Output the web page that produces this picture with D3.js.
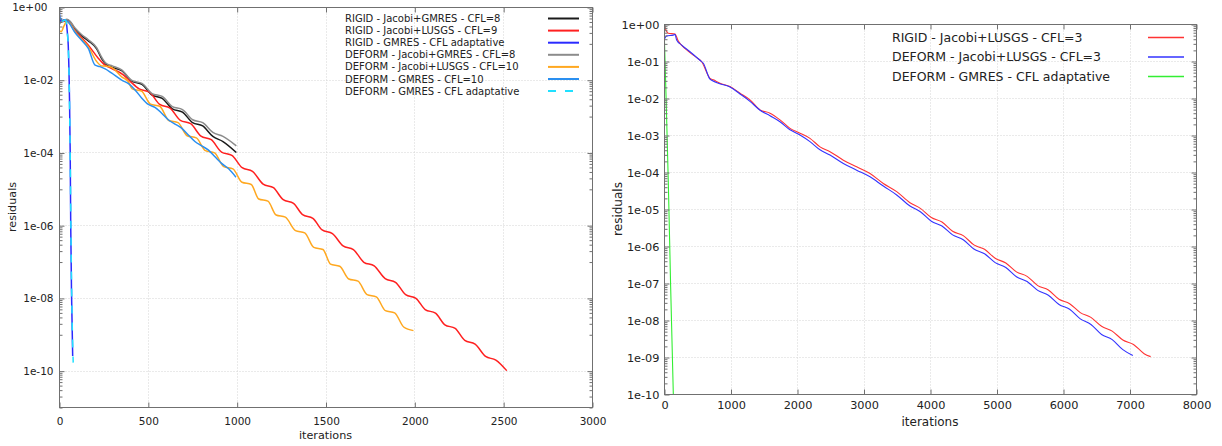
<!DOCTYPE html>
<html><head><meta charset="utf-8">
<script src="https://cdn.jsdelivr.net/npm/d3@7"></script>
<style>
body{margin:0;background:#fff;}
svg{display:block;font-family:"DejaVu Sans",sans-serif;}
</style></head><body>
<svg id="c" width="1222" height="446"></svg>
<script>
// ---------- DATA (iteration, log10(residual)) ----------
const leftIterTicks = [0, 500, 1000, 1500, 2000, 2500, 3000];
const leftResTickValues = [1e0, 1e-2, 1e-4, 1e-6, 1e-8, 1e-10];
const leftResTickLabels = ["1e+00", "1e-02", "1e-04", "1e-06", "1e-08", "1e-10"];
const rightIterTicks = [0, 1000, 2000, 3000, 4000, 5000, 6000, 7000, 8000];
const rightResTickValues = [1e0, 1e-1, 1e-2, 1e-3, 1e-4, 1e-5, 1e-6, 1e-7, 1e-8, 1e-9, 1e-10];
const rightResTickLabels = ["1e+00", "1e-01", "1e-02", "1e-03", "1e-04", "1e-05", "1e-06", "1e-07", "1e-08", "1e-09", "1e-10"];

const leftNames = [
  "RIGID - Jacobi+GMRES - CFL=8",
  "RIGID - Jacobi+LUSGS - CFL=9",
  "RIGID - GMRES - CFL adaptative",
  "DEFORM - Jacobi+GMRES - CFL=8",
  "DEFORM - Jacobi+LUSGS - CFL=10",
  "DEFORM - GMRES - CFL=10",
  "DEFORM - GMRES - CFL adaptative"
];
const rightNames = [
  "RIGID - Jacobi+LUSGS - CFL=3",
  "DEFORM - Jacobi+LUSGS - CFL=3",
  "DEFORM - GMRES - CFL adaptative"
];

const rigidJacobiGmres8 = [[0,-0.42],[10,-0.40],[25,-0.37],[45,-0.35],[60,-0.40],[90,-0.60],[130,-0.80],[165,-0.93],[212,-1.15],[240,-1.42],[265,-1.58],[300,-1.66],[353,-1.75],[410,-2.04],[467,-2.13],[524,-2.42],[581,-2.51],[638,-2.80],[695,-2.89],[752,-3.18],[809,-3.27],[866,-3.56],[923,-3.70],[998,-4.00]];
const rigidJacobiLusgs9 = [[0,-0.30],[10,-0.36],[25,-0.40],[40,-0.37],[55,-0.40],[90,-0.66],[130,-0.86],[165,-1.05],[221,-1.41],[259,-1.60],[300,-1.70],[360,-1.86],[400,-2.04],[451,-2.25],[509,-2.34],[567,-2.68],[625,-2.78],[683,-3.12],[741,-3.21],[799,-3.55],[857,-3.65],[915,-3.99],[973,-4.08],[1031,-4.42],[1089,-4.52],[1149,-4.87],[1207,-4.97],[1262,-5.30],[1320,-5.40],[1371,-5.71],[1429,-5.81],[1481,-6.13],[1539,-6.23],[1599,-6.57],[1657,-6.67],[1716,-7.02],[1774,-7.12],[1836,-7.47],[1894,-7.57],[1951,-7.91],[2009,-8.01],[2061,-8.32],[2119,-8.42],[2172,-8.74],[2230,-8.84],[2284,-9.17],[2342,-9.27],[2401,-9.61],[2459,-9.71],[2520,-10.00]];
const rigidGmresAdaptive = [[0,-0.02],[4,-0.25],[10,-0.42],[20,-0.38],[35,-0.35],[42,-0.45],[47,-0.70],[52,-1.05],[59,-2.50],[63,-4.00],[66,-6.00],[71,-8.00],[77,-9.60]];
const deformJacobiGmres8 = [[0,-0.50],[10,-0.42],[25,-0.38],[45,-0.34],[60,-0.38],[90,-0.58],[130,-0.77],[165,-0.90],[212,-1.12],[240,-1.38],[265,-1.55],[300,-1.62],[353,-1.73],[410,-2.02],[467,-2.10],[524,-2.38],[581,-2.46],[638,-2.74],[695,-2.82],[752,-3.10],[809,-3.18],[866,-3.45],[923,-3.56],[998,-3.82]];
const deformJacobiLusgs10 = [[0,-0.62],[12,-0.68],[28,-0.52],[43,-0.40],[60,-0.45],[90,-0.68],[130,-0.90],[165,-1.09],[212,-1.50],[240,-1.62],[270,-1.63],[296,-1.66],[353,-1.92],[390,-2.05],[412,-2.25],[464,-2.31],[515,-2.67],[567,-2.73],[618,-3.12],[670,-3.18],[721,-3.54],[773,-3.60],[824,-3.95],[876,-4.01],[927,-4.39],[979,-4.45],[1030,-4.82],[1082,-4.88],[1124,-5.28],[1176,-5.34],[1222,-5.72],[1274,-5.78],[1331,-6.15],[1383,-6.21],[1434,-6.61],[1486,-6.67],[1528,-7.07],[1580,-7.13],[1631,-7.48],[1683,-7.54],[1734,-7.91],[1786,-7.97],[1837,-8.35],[1889,-8.41],[1940,-8.80],[1995,-8.90]];
const deformGmres10 = [[0,-0.40],[8,-0.30],[20,-0.38],[35,-0.36],[50,-0.40],[90,-0.70],[130,-0.93],[165,-1.14],[203,-1.60],[230,-1.64],[260,-1.70],[297,-1.82],[353,-2.01],[395,-2.12],[428,-2.28],[465,-2.50],[503,-2.68],[540,-2.76],[578,-2.92],[615,-3.10],[653,-3.22],[690,-3.33],[728,-3.52],[765,-3.70],[803,-3.82],[840,-3.93],[878,-4.12],[915,-4.30],[955,-4.45],[996,-4.68]];
const deformGmresAdaptive = [[0,-0.05],[4,-0.30],[10,-0.45],[20,-0.40],[35,-0.36],[42,-0.45],[47,-0.72],[52,-1.08],[59,-2.55],[63,-4.05],[67,-6.05],[72,-8.05],[80,-9.78]];

const rigidLusgs3 = [[0,-0.02],[20,-0.12],[65,-0.25],[165,-0.27],[215,-0.46],[341,-0.70],[491,-0.91],[566,-1.02],[692,-1.47],[742,-1.51],[842,-1.60],[992,-1.69],[1143,-1.87],[1293,-2.05],[1444,-2.32],[1594,-2.41],[1744,-2.59],[1895,-2.82],[2045,-2.95],[2195,-3.09],[2346,-3.32],[2496,-3.45],[2697,-3.68],[2897,-3.86],[3098,-4.04],[3298,-4.31],[3499,-4.53],[3699,-4.83],[3860,-4.99],[4020,-5.23],[4180,-5.35],[4340,-5.60],[4500,-5.72],[4660,-5.97],[4820,-6.09],[4980,-6.33],[5140,-6.46],[5300,-6.70],[5460,-6.82],[5620,-7.07],[5780,-7.19],[5940,-7.44],[6100,-7.56],[6260,-7.80],[6420,-7.93],[6580,-8.17],[6740,-8.30],[6900,-8.54],[7060,-8.66],[7220,-8.91],[7318,-8.99]];
const deformLusgs3 = [[0,-0.43],[40,-0.32],[140,-0.30],[165,-0.28],[190,-0.43],[266,-0.57],[391,-0.75],[541,-0.98],[591,-1.06],[692,-1.49],[717,-1.52],[817,-1.60],[992,-1.70],[1143,-1.89],[1293,-2.09],[1444,-2.33],[1594,-2.48],[1744,-2.64],[1895,-2.86],[2045,-3.00],[2195,-3.18],[2346,-3.40],[2496,-3.54],[2697,-3.77],[2897,-3.95],[3098,-4.13],[3298,-4.38],[3499,-4.62],[3699,-4.92],[3860,-5.08],[4020,-5.33],[4180,-5.46],[4340,-5.70],[4500,-5.83],[4660,-6.08],[4820,-6.21],[4980,-6.45],[5140,-6.58],[5300,-6.83],[5460,-6.96],[5620,-7.20],[5780,-7.33],[5940,-7.58],[6100,-7.71],[6260,-7.97],[6420,-8.12],[6580,-8.39],[6740,-8.53],[6900,-8.80],[7050,-8.96]];
const deformGmresAdaptiveR = [[0,-0.02],[30,-1.90],[65,-4.30],[100,-7.10],[140,-10.00]];

// ---------- DRAWING ----------
const svg = d3.select("#c");
const defs = svg.append("defs");

function drawPanel(p) {
  const g = svg.append("g");
  const x = d3.scaleLinear().domain([0, p.xMax]).range([p.x0, p.x1]);
  const y = d3.scaleLog().domain([p.yMin, 1]).range([p.y1, p.y0]);

  defs.append("clipPath").attr("id", p.id).append("rect")
    .attr("x", p.x0).attr("y", p.y0).attr("width", p.x1 - p.x0).attr("height", p.y1 - p.y0);

  // grid
  const grid = g.append("g").attr("transform", "translate(0.5,0.5)")
    .attr("stroke", "#d4d4d4").attr("stroke-width", 1).attr("stroke-dasharray", "1,2");
  grid.selectAll(".gx").data(p.xTicks.filter(v => v > 0 && v < p.xMax)).join("line")
    .attr("x1", d => Math.round(x(d))).attr("x2", d => Math.round(x(d)))
    .attr("y1", p.y0).attr("y2", p.y1);
  grid.selectAll(".gy").data(p.yTicks.filter(v => v > p.yMin && v < 1)).join("line")
    .attr("y1", d => Math.round(y(d))).attr("y2", d => Math.round(y(d)))
    .attr("x1", p.x0).attr("x2", p.x1);

  // series
  const line = d3.line().x(d => x(d[0])).y(d => y(Math.pow(10, d[1]))).curve(d3.curveMonotoneX);
  const lines = g.append("g").attr("clip-path", `url(#${p.id})`);
  p.series.forEach(s => {
    lines.append("path").attr("d", line(s.data)).attr("fill", "none")
      .attr("stroke", s.color).attr("stroke-width", p.lw)
      .attr("stroke-linejoin", "round")
      .attr("stroke-dasharray", s.dash || null);
  });

  // axes
  const axisCol = "#707070";
  function style(sel) {
    sel.select(".domain").remove();
    sel.selectAll(".tick line").attr("stroke", axisCol);
    sel.selectAll("text").attr("fill", "#222").style("font-size", p.tickFont + "px")
      .style("font-family", "DejaVu Sans, sans-serif");
  }
  const gb = g.append("g").attr("transform", `translate(0.5,${p.y1 + 0.5})`)
    .call(d3.axisBottom(x).tickValues(p.xTicks).tickFormat(d3.format("d")).tickSizeInner(-5).tickSizeOuter(0).tickPadding(0));
  style(gb);
  gb.selectAll("text").attr("y", p.xLabelDy).attr("dy", 0);
  const gt = g.append("g").attr("transform", `translate(0.5,${p.y0 + 0.5})`)
    .call(d3.axisTop(x).tickValues(p.xTicks).tickFormat("").tickSizeInner(-5).tickSizeOuter(0));
  style(gt);
  const gl = g.append("g").attr("transform", `translate(${p.x0 + 0.5},0.5)`)
    .call(d3.axisLeft(y).tickValues(p.yTicks).tickFormat((d, i) => p.yLabels[i]).tickSizeInner(-5).tickSizeOuter(0).tickPadding(p.yPad));
  style(gl);
  if (p.firstLabelDx) gl.selectAll("text").filter(d => d === 1).attr("dx", p.firstLabelDx);
  const glm = g.append("g").attr("transform", `translate(${p.x0 + 0.5},0.5)`)
    .call(d3.axisLeft(y).tickValues(p.minor).tickFormat("").tickSizeInner(-3).tickSizeOuter(0));
  style(glm);
  const gr = g.append("g").attr("transform", `translate(${p.x1 + 0.5},0.5)`)
    .call(d3.axisRight(y).tickValues(p.yTicks).tickFormat("").tickSizeInner(-5).tickSizeOuter(0));
  style(gr);
  const grm = g.append("g").attr("transform", `translate(${p.x1 + 0.5},0.5)`)
    .call(d3.axisRight(y).tickValues(p.minor).tickFormat("").tickSizeInner(-3).tickSizeOuter(0));
  style(grm);

  // frame
  g.append("rect").attr("x", p.x0 + 0.5).attr("y", p.y0 + 0.5)
    .attr("width", p.x1 - p.x0).attr("height", p.y1 - p.y0)
    .attr("fill", "none").attr("stroke", axisCol).attr("stroke-width", 1);

  // axis titles
  g.append("text").attr("x", (p.x0 + p.x1) / 2).attr("y", p.xTitleY).attr("text-anchor", "middle")
    .attr("fill", "#222").style("font-size", p.titleFont + "px").text("iterations");
  g.append("text").attr("transform", `translate(${p.yTitleX},${(p.y0 + p.y1) / 2}) rotate(-90)`)
    .attr("text-anchor", "middle").attr("fill", "#222").style("font-size", p.titleFont + "px").text("residuals");

  // legend
  const lg = g.append("g");
  p.series.forEach((s, i) => {
    const yy = p.legY + i * p.legStep;
    lg.append("text").attr("x", p.legX).attr("y", yy).attr("dy", "0.35em")
      .attr("fill", "#222").style("font-size", p.legFont + "px").text(s.name);
    lg.append("line").attr("x1", p.legL0).attr("x2", p.legL1).attr("y1", yy).attr("y2", yy)
      .attr("stroke", s.color).attr("stroke-width", p.legLw).attr("stroke-dasharray", s.dash || null);
  });
}

// minor tick positions
const leftMinor = [];
[-1, -3, -5, -7, -9, -11].forEach(e => { for (let k = 1; k <= 9; k++) leftMinor.push(k * Math.pow(10, e)); });
const rightMinor = [];
for (let e = -10; e <= -1; e++) { for (let k = 2; k <= 9; k++) rightMinor.push(k * Math.pow(10, e)); }

drawPanel({
  id: "clipL", x0: 59, x1: 592, y0: 7, y1: 407, xMax: 3000, yMin: 1e-11,
  xTicks: leftIterTicks, yTicks: leftResTickValues, yLabels: leftResTickLabels, minor: leftMinor,
  yPad: 6, firstLabelDx: -6, tickFont: 10.5, xLabelDy: 17, titleFont: 11.2,
  xTitleY: 439, yTitleX: 16, lw: 1.5,
  legX: 345, legY: 18.5, legStep: 12.1, legFont: 10, legL0: 548, legL1: 579, legLw: 2,
  series: [
    { name: leftNames[0], data: rigidJacobiGmres8, color: "#1a1a1a" },
    { name: leftNames[1], data: rigidJacobiLusgs9, color: "#ff2020" },
    { name: leftNames[2], data: rigidGmresAdaptive, color: "#2a2aff" },
    { name: leftNames[3], data: deformJacobiGmres8, color: "#8c8c8c" },
    { name: leftNames[4], data: deformJacobiLusgs10, color: "#ffa820" },
    { name: leftNames[5], data: deformGmres10, color: "#2a8ff0" },
    { name: leftNames[6], data: deformGmresAdaptive, color: "#20e0ff", dash: "8,9" }
  ]
});

drawPanel({
  id: "clipR", x0: 664, x1: 1196, y0: 24, y1: 394, xMax: 8000, yMin: 1e-10,
  xTicks: rightIterTicks, yTicks: rightResTickValues, yLabels: rightResTickLabels, minor: rightMinor,
  yPad: 5, firstLabelDx: 0, tickFont: 11.3, xLabelDy: 14, titleFont: 12,
  xTitleY: 426, yTitleX: 622, lw: 1.1,
  legX: 892, legY: 37.5, legStep: 19.5, legFont: 12.5, legL0: 1148, legL1: 1184, legLw: 1.5,
  series: [
    { name: rightNames[0], data: rigidLusgs3, color: "#ff3333" },
    { name: rightNames[1], data: deformLusgs3, color: "#3333ff" },
    { name: rightNames[2], data: deformGmresAdaptiveR, color: "#33ee33" }
  ]
});
</script>
</body></html>
